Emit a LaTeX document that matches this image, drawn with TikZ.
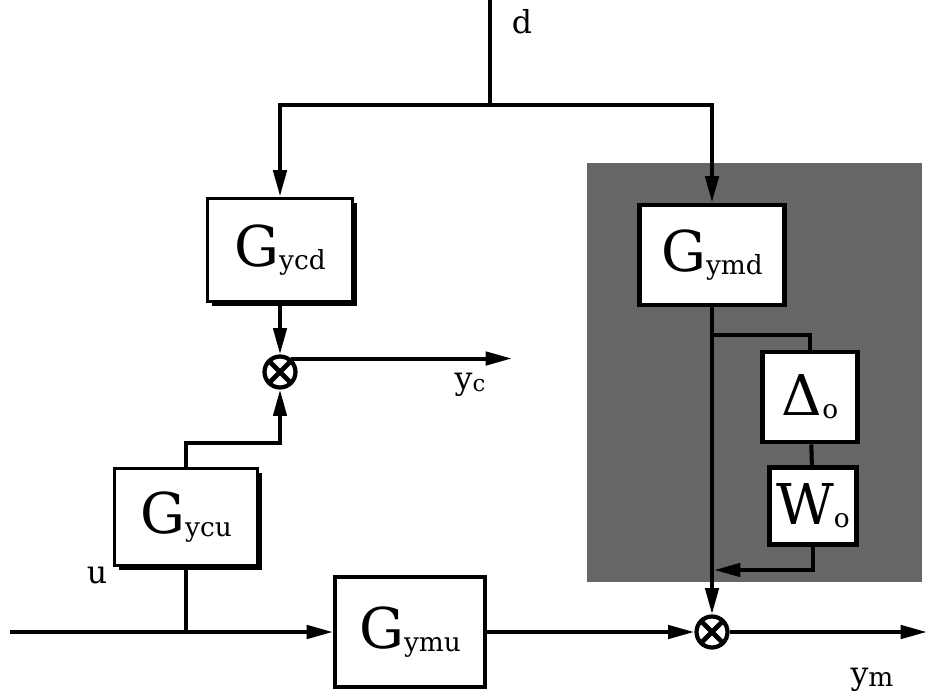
\documentclass[tikz,border=0pt]{standalone}
\usepackage{fontspec}
\setmainfont{DejaVu Serif}
\usetikzlibrary{arrows.meta,shadows}
\tikzset{blk/.style={
    rectangle,
    draw,
    line width=2.2pt,
    fill=white,
    inner sep=0pt
  },
  shblk/.style={blk,drop shadow={shadow xshift=2.5pt,shadow yshift=-2.5pt,fill=black,opacity=1}},
  sumnode/.style={circle,draw,line width=2.4pt,fill=white,minimum size=0.62cm,inner sep=0pt,
    path picture={\draw[line width=2.8pt]
      (path picture bounding box.north west) -- (path picture bounding box.south east)
      (path picture bounding box.north east) -- (path picture bounding box.south west);}},
  sig/.style={font=\fontsize{18}{21}\selectfont},
  shade/.style={fill=black!60},
}
\newcommand{\blklabel}[2]{\fontsize{32}{36}\selectfont #1\raisebox{-0.1ex}{\fontsize{15}{17}\selectfont #2}}

\begin{document}
\begin{tikzpicture}[x=0.02cm,y=-0.02cm,line width=2.3pt,>={Triangle[length=15pt,width=7.5pt]}]
  \useasboundingbox (0,0) rectangle (927,694);
  \fill[shade] (587,163) rectangle (922,582);
  % blocks
  \node[shblk,minimum width=2.9cm,minimum height=2.06cm] (gycd) at (280,250) {\blklabel{G}{ycd}};
  \node[shblk,minimum width=2.86cm,minimum height=1.94cm] (gycu) at (186,517) {\blklabel{G}{ycu}};
  \node[blk,minimum width=3cm,minimum height=2.2cm] (gymu) at (410,632) {\blklabel{G}{ymu}};
  \node[blk,line width=2.8pt,minimum width=2.9cm,minimum height=2cm] (gymd) at (712,255) {\blklabel{G}{ymd}};
  \node[blk,line width=2.8pt,minimum width=1.9cm,minimum height=1.8cm] (delta) at (810,397) {\blklabel{Δ}{o}};
  \node[blk,line width=2.8pt,minimum width=1.74cm,minimum height=1.54cm] (wo) at (813,506) {\blklabel{W}{o}};
  \node[sumnode] (sum1) at (280,372) {};
  \node[sumnode] (sum2) at (712,632) {};
  % signals
  \node[sig] (dlab) at (522,22) {d};
  \node[sig] (yclab) at (470,385) {y\raisebox{-0.1ex}{\fontsize{13}{15}\selectfont c}};
  \node[sig] (ulab) at (97,576) {u};
  \node[sig] (ymlab) at (872,680) {y\raisebox{-0.1ex}{\fontsize{15}{17}\selectfont m}};
  \coordinate (dtop) at (490,0);
  \coordinate (dsplit) at (490,105);
  \coordinate (ycend) at (512,355);
  \coordinate (bend1) at (280,443);
  \coordinate (uin) at (10,632);
  \coordinate (ymend) at (927,632);
  \coordinate (br) at (712,335);
  \coordinate (join) at (714,570);
  % connectors
  \draw (dtop) -- (dsplit);
  \draw[->] (dsplit) -| (gycd.north);
  \draw[->] (dsplit) -| (gymd.north);
  \draw[->] (gycd) -- (sum1);
  \draw[->] (sum1.50) -- (sum1.50 -| ycend);
  \draw[->] (gycu.north) |- (bend1) -- (sum1.south);
  \draw (gycu.south) -- (gycu.south |- uin);
  \draw[->] (uin) -- (gymu.west);
  \draw[->] (gymu) -- (sum2);
  \draw[->] (sum2) -- (ymend);
  \draw[->] (gymd) -- (sum2);
  \draw (br) -| (delta.north);
  \draw (delta) -- (wo);
  \draw[->] (wo.south) |- (join);
\end{tikzpicture}
\end{document}
